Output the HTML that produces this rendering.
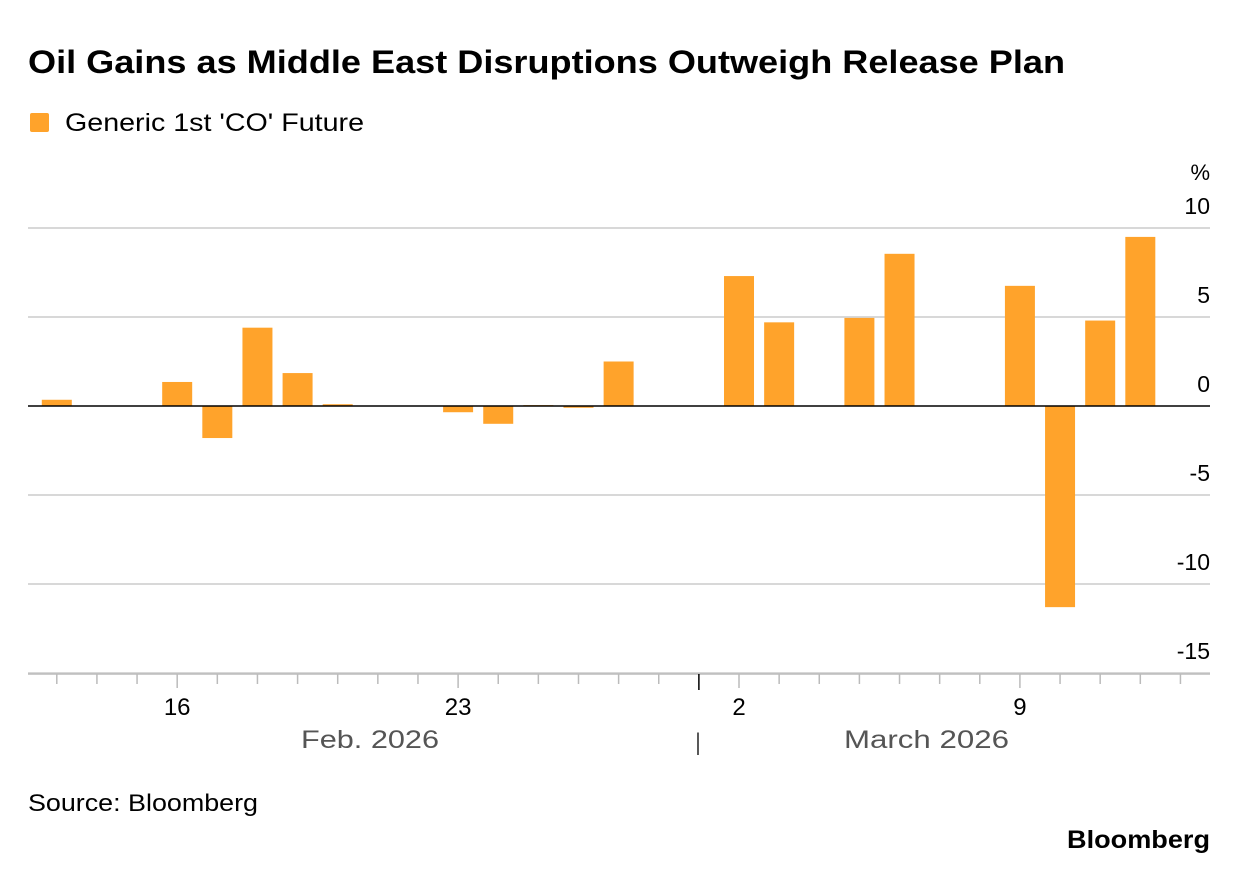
<!DOCTYPE html>
<html><head><meta charset="utf-8"><style>
body{margin:0;background:#fff;width:1240px;height:882px;overflow:hidden;font-family:"Liberation Sans",sans-serif;}
svg text{font-family:"Liberation Sans",sans-serif;}
</style></head><body>
<svg id="c" width="1240" height="882">
<text x="28" y="73" font-size="32" font-weight="bold" fill="#000" textLength="1037" lengthAdjust="spacingAndGlyphs">Oil Gains as Middle East Disruptions Outweigh Release Plan</text>
<rect x="30" y="113" width="19" height="19" rx="2" fill="#ffa32b"/>
<text x="65" y="131" font-size="25" fill="#000" textLength="299" lengthAdjust="spacingAndGlyphs">Generic 1st 'CO' Future</text>
<text x="1210" y="180" font-size="22" text-anchor="end" fill="#000">%</text>
<g id="grid"></g><g id="bars"></g><g id="xaxis"></g>
<text x="301" y="748" font-size="25" fill="#555" textLength="138" lengthAdjust="spacingAndGlyphs">Feb. 2026</text>
<text x="698" y="750" font-size="24" fill="#555" text-anchor="middle">|</text>
<text x="844" y="748" font-size="25" fill="#555" textLength="165" lengthAdjust="spacingAndGlyphs">March 2026</text>
<text x="28" y="811" font-size="24" fill="#000" textLength="230" lengthAdjust="spacingAndGlyphs">Source: Bloomberg</text>
<text x="1210" y="848" font-size="25" font-weight="bold" text-anchor="end" fill="#000" textLength="143" lengthAdjust="spacingAndGlyphs">Bloomberg</text>
</svg>
<script>
const dayIndex=[0,3,4,5,6,7,10,11,12,13,14,17,18,20,21,24,25,26,27];
const values=[0.35,1.35,-1.8,4.4,1.85,0.1,-0.35,-1.0,0.05,-0.1,2.5,7.3,4.7,4.95,8.55,6.75,-11.3,4.8,9.5];
const yTicks=[10,5,0,-5,-10,-15];
const xTickDays=[3,10,17,24];
const xTickLabels=["16","23","2","9"];
const NS="http://www.w3.org/2000/svg";
const x=d=>56.8+d*40.13;
const y=v=>406-v*17.8;
function mk(tag,attrs,parent){const e=document.createElementNS(NS,tag);for(const k in attrs)e.setAttribute(k,attrs[k]);document.getElementById(parent).appendChild(e);return e;}
yTicks.forEach(t=>{
 if(t!==0){const l=mk('line',{x1:28,x2:1210,y1:y(t),y2:y(t),stroke:'#ccc','stroke-width':1.5},'grid');
 
 }
 const tx=mk('text',{x:1210,y:y(t)-14,'font-size':23,'text-anchor':'end',fill:'#000'},'grid');
 tx.textContent=t;
 
 
});
dayIndex.forEach((d,i)=>{
 const v=values[i];
 const r=mk('rect',{x:x(d)-15,width:30,y:Math.min(y(v),y(0)),height:Math.max(1,Math.abs(y(v)-y(0))),fill:'#ffa32b'},'bars');
 
 
});
const z=mk('line',{x1:28,x2:1210,y1:y(0),y2:y(0),stroke:'#000','stroke-width':1.5},'bars');


const ax=mk('line',{x1:28,x2:1210,y1:674,y2:674,stroke:'#bbb','stroke-width':1.5},'xaxis');


for(let d=0;d<=28;d++){
 const isMajor=xTickDays.includes(d);
 const t=mk('line',{x1:x(d),x2:x(d),y1:674,y2:d===16?690:(isMajor?688:684),stroke:d===16?'#000':'#bbb','stroke-width':1.5},'xaxis');
 
 
}
xTickDays.forEach((d,i)=>{
 const t=mk('text',{x:x(d),y:715,'font-size':24,'text-anchor':'middle',fill:'#000'},'xaxis');
 t.textContent=xTickLabels[i];
 
 
});
</script>
</body></html>
